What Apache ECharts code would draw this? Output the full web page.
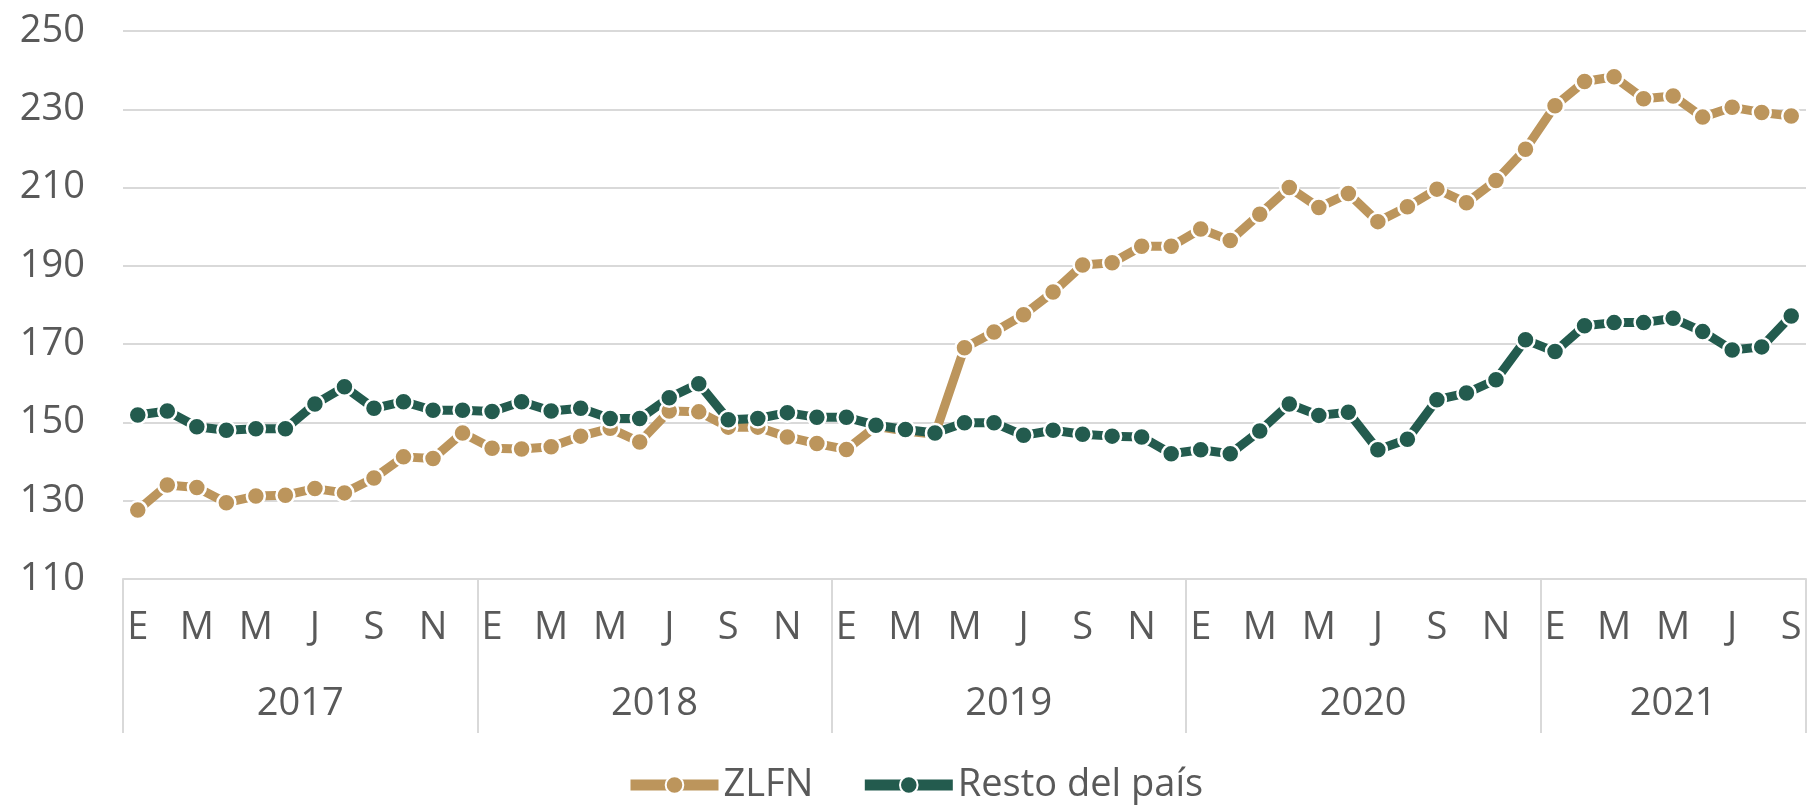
<!DOCTYPE html>
<html>
<head>
<meta charset="utf-8">
<script src="https://cdn.jsdelivr.net/npm/echarts@6/dist/echarts.min.js"></script>
<style>
  html, body { margin: 0; padding: 0; background: #fff; }
  #chart { width: 1809px; height: 809px; }
</style>
</head>
<body>
<div id="chart"></div>
<script>
// monthly data, Jan 2017 - Sep 2021
const years = ['2017', '2018', '2019', '2020', '2021'];
const monthLetters = ['E', 'F', 'M', 'A', 'M', 'J', 'J', 'A', 'S', 'O', 'N', 'D'];

const zlfn = [
  127.6, 134.0, 133.4, 129.5, 131.2, 131.4, 133.1, 132.0, 135.8, 141.2, 140.8, 147.3,
  143.4, 143.2, 143.8, 146.5, 148.5, 145.0, 152.9, 152.7, 148.8, 148.8, 146.3, 144.6,
  143.1, 149.0, 147.8, 147.0, 169.1, 173.1, 177.5, 183.3, 190.2, 190.8, 195.0, 195.0,
  199.4, 196.5, 203.2, 210.0, 204.9, 208.5, 201.3, 205.1, 209.6, 206.1, 211.8, 219.8,
  230.9, 237.1, 238.3, 232.7, 233.4, 228.0, 230.5, 229.2, 228.3
];
const resto = [
  151.9, 152.9, 148.9, 148.0, 148.4, 148.4, 154.7, 159.1, 153.6, 155.3, 153.1, 153.1,
  152.8, 155.3, 152.9, 153.6, 151.0, 151.0, 156.3, 159.9, 150.7, 151.0, 152.5, 151.3,
  151.3, 149.3, 148.2, 147.3, 149.9, 149.9, 146.7, 148.0, 147.0, 146.5, 146.3, 142.0,
  143.0, 142.0, 147.8, 154.7, 151.8, 152.6, 143.0, 145.7, 155.8, 157.5, 160.9, 171.1,
  168.1, 174.7, 175.5, 175.5, 176.6, 173.2, 168.5, 169.3, 177.2
];

const yMin = 110, yMax = 250, yStep = 20;

const n = zlfn.length;
const monthCats = zlfn.map((_, i) => monthLetters[i % 12]);
const yearCats = zlfn.map((_, i) => years[Math.floor(i / 12)]);

// year label sits in the middle of its months
const yearLabelAt = {};
years.forEach((y, k) => {
  const start = k * 12;
  const end = Math.min(start + 11, n - 1);
  const mid = (start + end) / 2;
  yearLabelAt[Math.floor(mid)] = mid - Math.floor(mid);
});

const gridLeft = 123, gridRight = 3;
const band = (1809 - gridLeft - gridRight) / n;

const textColor = '#595959';
const font = 'Open Sans';

const chart = echarts.init(document.getElementById('chart'));

chart.setOption({
  animation: false,
  backgroundColor: '#fff',
  grid: { left: gridLeft, right: gridRight, top: 31, bottom: 230, containLabel: false },
  legend: {
    left: 620,
    bottom: 0,
    itemWidth: 88,
    itemHeight: 22,
    itemGap: 46,
    textStyle: { color: textColor, fontSize: 38, fontFamily: font },
    lineStyle: { type: 'solid', width: 11 },
    data: ['ZLFN', 'Resto del país']
  },
  xAxis: [
    {
      type: 'category',
      data: monthCats,
      boundaryGap: true,
      axisLine: { show: true, lineStyle: { color: '#d9d9d9', width: 2 } },
      axisTick: { show: false },
      axisLabel: {
        interval: 1,
        margin: 30,
        color: textColor,
        fontSize: 38,
        fontFamily: font
      },
      splitLine: { show: false }
    },
    {
      type: 'category',
      data: yearCats,
      position: 'bottom',
      boundaryGap: true,
      axisLine: { show: false },
      axisTick: {
        show: true,
        length: 154,
        interval: (i) => i % 12 === 0,
        lineStyle: { color: '#d9d9d9', width: 2 }
      },
      axisLabel: {
        margin: 106,
        color: textColor,
        fontSize: 38,
        fontFamily: font,
        interval: (i) => yearLabelAt[i] !== undefined,
        formatter: (val, i) => {
          const shift = yearLabelAt[i] || 0;
          return shift ? '{s|' + val + '}' : val;
        },
        rich: {
          s: {
            color: textColor,
            fontSize: 38,
            fontFamily: font,
            padding: [0, 0, 0, band]
          }
        }
      },
      splitLine: { show: false }
    }
  ],
  yAxis: {
    type: 'value',
    min: yMin,
    max: yMax,
    interval: yStep,
    axisLine: { show: false },
    axisTick: { show: false },
    axisLabel: { margin: 38, color: textColor, fontSize: 38, fontFamily: font },
    splitLine: { lineStyle: { color: '#d9d9d9', width: 2 } }
  },
  series: [
    {
      name: 'ZLFN',
      type: 'line',
      data: zlfn,
      symbol: 'circle',
      symbolSize: 18,
      lineStyle: { color: '#BC955C', width: 9 },
      itemStyle: { color: '#BC955C', borderColor: '#fff', borderWidth: 2.5 }
    },
    {
      name: 'Resto del país',
      type: 'line',
      data: resto,
      symbol: 'circle',
      symbolSize: 18,
      lineStyle: { color: '#235B4E', width: 9 },
      itemStyle: { color: '#235B4E', borderColor: '#fff', borderWidth: 2.5 }
    }
  ]
});
</script>
</body>
</html>
